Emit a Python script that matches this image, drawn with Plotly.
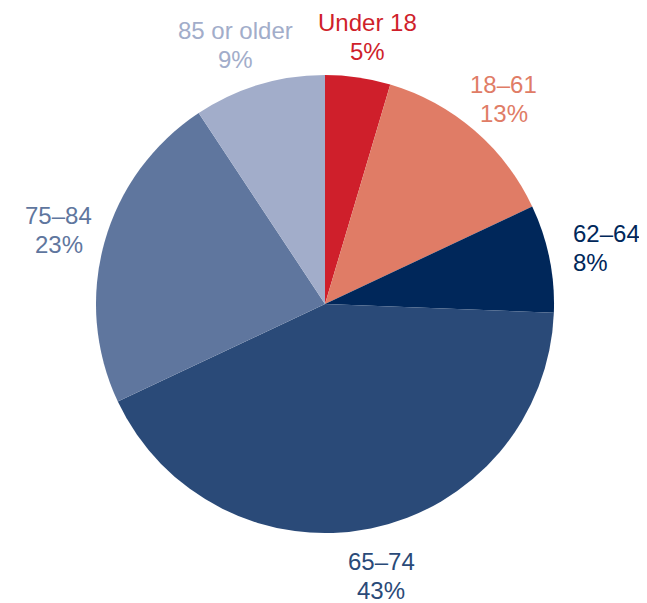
import math
import plotly.graph_objects as go

categories = ["Under 18", "18–61", "62–64", "65–74", "75–84", "85 or older"]
shares = [4.6, 13.4, 7.6, 42.4, 22.7, 9.3]
pct_labels = ["5%", "13%", "8%", "43%", "23%", "9%"]
colors = ["#CF1F2B", "#E07C66", "#00275A", "#2A4A78", "#5F769E", "#A2ADCA"]

# the page body has an 8px default margin, so the figure is 8px smaller
W, H = 639, 595
dom_x = [0.1377, 0.8545]
dom_y = [0.1176, 0.8874]
FONT = "Liberation Sans, Arial, sans-serif"
FS = 24
LINE = 29

fig = go.Figure(go.Pie(
    labels=categories,
    values=shares,
    textinfo="none",
    sort=False,
    direction="clockwise",
    rotation=0,
    marker=dict(colors=colors, line=dict(width=0)),
    domain=dict(x=dom_x, y=dom_y),
    showlegend=False,
    hoverinfo="label+percent",
))

# pie geometry (pixels) derived from the domain
cx = (dom_x[0] + dom_x[1]) / 2 * W
cy = (1 - (dom_y[0] + dom_y[1]) / 2) * H
r = min((dom_x[1] - dom_x[0]) * W, (dom_y[1] - dom_y[0]) * H) / 2

total = sum(shares)
cum = 0.0
annotations = []
for cat, val, pct, col in zip(categories, shares, pct_labels, colors):
    mid = (cum + val / 2) / total * 2 * math.pi
    cum += val
    s, c = math.sin(mid), math.cos(mid)
    left_aligned = s > 0.9
    r_lab = r + (22 if left_aligned else 16 - 4 * c)
    ax_px = cx + r_lab * s
    ay_px = cy - r_lab * c
    est_w = max(len(cat), len(pct)) * 0.54 * FS
    est_h = 2 * LINE
    by = ay_px - c * est_h / 2
    if left_aligned:
        bx, xa = ax_px, "left"
    else:
        bx, xa = ax_px + s * est_w / 2, "center"
    for line_text, dy in ((cat, -LINE / 2), (pct, LINE / 2)):
        annotations.append(dict(
            x=bx / W, y=1 - (by + dy) / H, xref="paper", yref="paper",
            text=line_text, showarrow=False,
            xanchor=xa, yanchor="middle", align=xa,
            font=dict(color=col, size=FS, family=FONT),
        ))

fig.update_layout(
    width=W, height=H,
    margin=dict(l=0, r=0, t=0, b=0),
    paper_bgcolor="white",
    plot_bgcolor="white",
    annotations=annotations,
)

fig.write_html("out.html")
